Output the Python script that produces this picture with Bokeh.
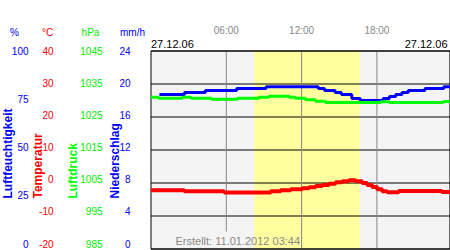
import math
from bokeh.plotting import figure
from bokeh.models import Range1d
from bokeh.core.properties import value
from bokeh.embed import file_html
from bokeh.resources import INLINE

# ---------------- data ----------------
hum_t = [0.67, 2.67, 4.33, 6.83, 9.17, 13.33, 13.83, 14.67, 15.17, 16.0, 16.67,
         18.5, 19.0, 19.5, 20.0, 20.5, 21.83, 23.33, 23.82]
hum_v = [78, 79, 80, 81, 82, 81, 80, 79, 78, 76, 75,
         76, 77, 78, 79, 80, 81, 82, 82]

press_t = [0.0, 0.6, 2.5, 3.2, 4.8, 6.9, 8.6, 9.4, 11.0, 11.5, 12.3, 13.1, 13.9,
           18.3, 19.0, 23.3, 23.82]
press_v = [1031.0, 1030.7, 1031.0, 1030.7, 1030.4, 1030.7, 1031.0, 1031.3, 1031.0,
           1030.7, 1030.2, 1029.8, 1029.4, 1029.6, 1029.4, 1029.7, 1029.7]

temp_t = [0.0, 2.65, 5.83, 9.54, 10.33, 11.13, 12.06, 12.59, 13.12, 13.65, 14.18,
          14.71, 15.24, 15.77, 16.3, 16.83, 17.22, 17.62, 18.02, 18.42, 18.81,
          19.74, 23.18, 23.82]
temp_v = [-2.2, -2.5, -2.9, -2.5, -2.2, -1.9, -1.6, -1.3, -0.9, -0.6, -0.2,
          0.2, 0.5, 0.8, 0.5, 0.0, -0.6, -1.2, -1.9, -2.5, -2.8,
          -2.4, -2.7, -2.7]

day_span = [0, 23.82]
daylight = [8.21, 16.64]
hour_ticks = [6, 12, 18]
hour_labels = ["06:00", "12:00", "18:00"]
hum_ticks = [0, 25, 50, 75, 100]
temp_ticks = [-20, -10, 0, 10, 20, 30, 40]
press_ticks = [985, 995, 1005, 1015, 1025, 1035, 1045]
prec_ticks = [0, 4, 8, 12, 16, 20, 24]
date_label = "27.12.06"
created = "Erstellt: 11.01.2012 03:44"

BLUE = "#0000ff"
RED = "#ff0000"
GREEN = "#00ff00"
GREEN_T = "#00ee00"
FONT = value("Liberation Sans")

# ---------------- layout helpers (pixel -> data) ----------------
PX0, PXH = 150.5, 12.55          # pixel of hour 0, pixels per hour
PY0, PYV = 248.5, 33 / 4.0       # pixel of 0 mm/h, pixels per mm/h
W, H = 450, 250

def hx(px):
    return (px - PX0) / PXH

def vy(py):
    return (PY0 - py) / PYV

def series_range(ticks):
    lo, hi = ticks[0], ticks[-1]
    s = (hi - lo) / 198.0
    return Range1d(lo + (PY0 - H) * s, lo + PY0 * s)

def label_range(ticks):
    lo, hi = ticks[0], ticks[-1]
    s = (hi - lo) / 193.0
    return Range1d(lo - (H - 243) * s, hi + 50 * s)

p = figure(width=W, height=H, x_range=Range1d(hx(0), hx(W)), y_range=Range1d(vy(H), vy(0)),
           output_backend="svg", toolbar_location=None,
           x_axis_location=None, y_axis_location=None, min_border=0)
p.outline_line_color = None
p.background_fill_color = "white"
p.border_fill_color = "white"
p.grid.visible = False

p.extra_y_ranges = {
    "hum": series_range(hum_ticks), "temp": series_range(temp_ticks),
    "press": series_range(press_ticks),
    "hum_lab": label_range(hum_ticks), "temp_lab": label_range(temp_ticks),
    "press_lab": label_range(press_ticks), "prec_lab": label_range(prec_ticks),
}

y_lo, y_hi = prec_ticks[0], prec_ticks[-1]
# plot area background and daylight band
p.quad(left=[day_span[0]], right=[day_span[1]], bottom=[y_lo], top=[y_hi],
       fill_color="#f4f4f4", line_color=None)
p.quad(left=[daylight[0]], right=[daylight[1]], bottom=[y_lo], top=[y_hi],
       fill_color="#ffffa0", line_color=None)
# grid (the 06:00 line stops above the footer text, as in the original)
p.segment(x0=[day_span[0]] * len(prec_ticks), x1=[day_span[1]] * len(prec_ticks),
          y0=prec_ticks, y1=prec_ticks, line_color="black", line_width=1)
p.segment(x0=hour_ticks, x1=hour_ticks, y0=[vy(231), y_lo, y_lo], y1=[y_hi] * 3,
          line_color="#888888", line_width=1)
p.quad(left=[day_span[0]], right=[day_span[1]], bottom=[y_lo], top=[y_hi],
       fill_color=None, line_color="black", line_width=1)

# series
p.step(hum_t, hum_v, mode="after", y_range_name="hum", line_color=BLUE, line_width=3)
p.step(press_t, press_v, mode="after", y_range_name="press", line_color=GREEN, line_width=3)
p.step(temp_t, temp_v, mode="after", y_range_name="temp", line_color=RED, line_width=4)

def txt(x, y, text, color, size="10px", align="center", angle=0.0, bold=False,
        range_name="default", baseline="middle"):
    p.text(x=x, y=y, text=text, y_range_name=range_name, text_color=color,
           text_font=FONT, text_font_size=value(size), text_align=align,
           text_baseline=baseline, angle=angle,
           text_font_style="bold" if bold else "normal")

# tick label columns
def column(ticks, px_right, color, rname):
    txt([hx(px_right)] * len(ticks), ticks, [str(t) for t in ticks], color,
        align="right", range_name=rname)

column(prec_ticks, 130, BLUE, "prec_lab")
column(press_ticks, 102, GREEN_T, "press_lab")
column(temp_ticks, 53, RED, "temp_lab")
column(hum_ticks, 28, BLUE, "hum_lab")

# unit headers
txt([hx(14)], [vy(32)], ["%"], BLUE)
txt([hx(47)], [vy(32)], ["°C"], RED)
txt([hx(90)], [vy(32)], ["hPa"], GREEN_T)
txt([hx(132)], [vy(32)], ["mm/h"], BLUE)

# rotated titles
for name, px, col in [("Luftfeuchtigkeit", 7, BLUE), ("Temperatur", 37, RED),
                      ("Luftdruck", 72, GREEN), ("Niederschlag", 114, BLUE)]:
    txt([hx(px)], [vy(198)], [name], col, size="12px", align="left",
        angle=math.pi / 2, bold=True)

# hour labels above plot
txt(hour_ticks, [vy(30)] * len(hour_ticks), hour_labels, "#888888")

# dates
txt([day_span[0]], [vy(43)], [date_label], "black", size="11px", align="left")
txt([hx(447)], [vy(43)], [date_label], "black", size="11px", align="right")
# created
txt([hx(175)], [vy(240)], [created], "#888888", size="11px", align="left")

open("out.html", "w").write(file_html(p, INLINE))
